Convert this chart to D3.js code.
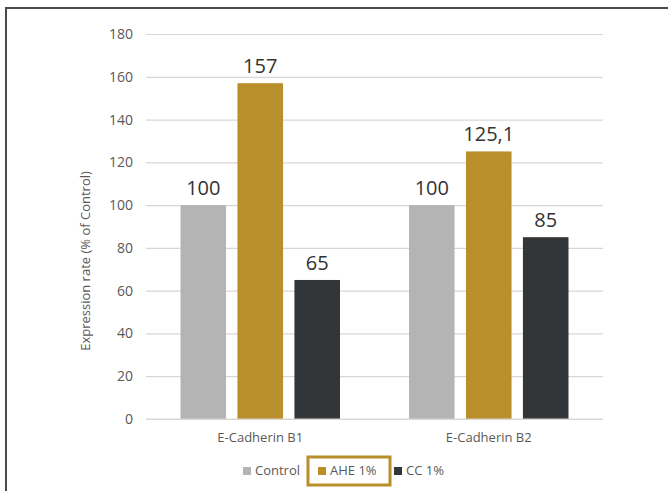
<!DOCTYPE html>
<html><head><meta charset="utf-8">
<script src="https://cdn.jsdelivr.net/npm/d3@7/dist/d3.min.js"></script>
<style>html,body{margin:0;padding:0;background:#fff;}svg{display:block;}</style>
</head><body>
<script>
const categories = ["E-Cadherin B1", "E-Cadherin B2"];
const seriesNames = ["Control", "AHE 1%", "CC 1%"];
const controlValues = [100, 100];
const aheValues = [157, 125.1];
const ccValues = [65, 85];
const valueLabels = [["100", "157", "65"], ["100", "125,1", "85"]];
const yTicks = [0, 20, 40, 60, 80, 100, 120, 140, 160, 180];
const colors = ["#b4b4b4", "#b88f2a", "#333639"];

const W = 668, H = 491;
const svg = d3.select("body").append("svg").attr("width", W).attr("height", H);
const font = "'Open Sans', 'Noto Sans', sans-serif";

// frame
svg.append("rect").attr("x", 6).attr("y", 8).attr("width", 700).attr("height", 520)
  .attr("fill", "none").attr("stroke", "#4a4a4a").attr("stroke-width", 2);

const x0 = d3.scaleBand().domain(categories).range([146, 603]).paddingInner(0.302).paddingOuter(0.151);
const x1 = d3.scaleBand().domain(seriesNames).range([0, x0.bandwidth()]).paddingInner(0.2).paddingOuter(0);
const y = d3.scaleLinear().domain([0, 180]).range([419, 34]);

// gridlines
const yAxis = d3.axisLeft(y).tickValues(yTicks).tickSize(-(603 - 146)).tickPadding(13);
const ga = svg.append("g").attr("transform", "translate(146,0)").call(yAxis);
ga.select(".domain").remove();
ga.selectAll(".tick line").attr("stroke", "#dcd6d2").attr("stroke-width", 1.2);
ga.selectAll(".tick text").attr("fill", "#595959").attr("font-size", 14).attr("font-family", font);

const data = categories.map((c, i) => ({cat: c, vals: [controlValues[i], aheValues[i], ccValues[i]]}));
const groups = svg.selectAll("g.grp").data(data).enter().append("g").attr("class", "grp")
  .attr("transform", d => `translate(${x0(d.cat)},0)`);
groups.selectAll("rect").data((d, i) => d.vals.map((v, j) => ({v, j, i}))).enter().append("rect")
  .attr("x", d => x1(seriesNames[d.j])).attr("width", x1.bandwidth())
  .attr("y", d => y(d.v)).attr("height", d => y(0) - y(d.v))
  .attr("fill", d => colors[d.j]);
groups.selectAll("text.val").data((d, i) => d.vals.map((v, j) => ({v, j, i}))).enter().append("text")
  .attr("class", "val")
  .attr("x", d => x1(seriesNames[d.j]) + x1.bandwidth() / 2)
  .attr("y", d => y(d.v) - 10)
  .attr("text-anchor", "middle").attr("font-size", 20).attr("font-family", font).attr("fill", "#333")
  .text(d => valueLabels[d.i][d.j]);

// x axis line
svg.append("line").attr("x1", 146).attr("x2", 603).attr("y1", y(0)).attr("y2", y(0))
  .attr("stroke", "#dcd6d2").attr("stroke-width", 1.2);
const xAxis = d3.axisBottom(x0).tickSize(0).tickPadding(14);
const gx = svg.append("g").attr("transform", `translate(0,${y(0)})`).call(xAxis);
gx.select(".domain").remove();
gx.selectAll("text").attr("fill", "#595959").attr("font-size", 13).attr("font-family", font);

// y title
svg.append("text").attr("transform", "translate(90,261) rotate(-90)")
  .attr("text-anchor", "middle").attr("font-size", 13).attr("font-family", font).attr("fill", "#595959")
  .text("Expression rate (% of Control)");

// legend
const legendX = [243, 318, 394];
const lg = svg.append("g");
svg.append("rect").attr("x", 308).attr("y", 457).attr("width", 82).attr("height", 28)
  .attr("fill", "none").attr("stroke", colors[1]).attr("stroke-width", 3);
seriesNames.forEach((s, i) => {
  lg.append("rect").attr("x", legendX[i]).attr("y", 467).attr("width", 8).attr("height", 8).attr("fill", colors[i]);
  lg.append("text").attr("x", legendX[i] + 12).attr("y", 475).attr("font-size", 13)
    .attr("font-family", font).attr("fill", "#595959").text(s);
});
</script>
</body></html>
